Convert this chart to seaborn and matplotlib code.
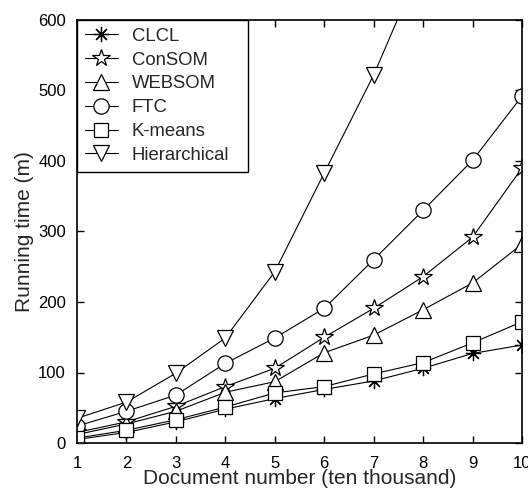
import numpy as np
import pandas as pd
import matplotlib
matplotlib.use("Agg")
import matplotlib.pyplot as plt
import seaborn as sns

# ---- data ----
doc_number = [1, 2, 3, 4, 5, 6, 7, 8, 9, 10]
clcl = [5, 15, 30, 48, 63, 76, 88, 106, 127, 139]
consom = [15, 30, 52, 80, 106, 150, 191, 236, 292, 390]
websom = [12, 27, 45, 72, 87, 128, 153, 189, 227, 282]
ftc = [24, 45, 68, 113, 149, 191, 260, 330, 401, 492]
kmeans = [7, 18, 33, 51, 71, 80, 98, 114, 142, 172]
hier_x = [1, 2, 3, 4, 5, 6, 7, 8]
hierarchical = [35, 58, 99, 149, 243, 383, 522, 685]

series_names = ["CLCL", "ConSOM", "WEBSOM", "FTC", "K-means", "Hierarchical"]
xticks = [1, 2, 3, 4, 5, 6, 7, 8, 9, 10]
yticks = [0, 100, 200, 300, 400, 500, 600]

# ---- styling ----
sns.set_theme(style="white")
plt.rcParams["font.family"] = ["Liberation Sans", "DejaVu Sans"]

fig = plt.figure(figsize=(5.28, 4.97), dpi=100)
ax = fig.add_axes([77 / 528, 1 - 443 / 497, (522 - 77) / 528, (443 - 20) / 497])

asterisk = (8, 2, 0)
marker_map = {
    "CLCL": (asterisk, 11),
    "ConSOM": ("*", 13),
    "WEBSOM": ("^", 12),
    "FTC": ("o", 11),
    "K-means": ("s", 10),
    "Hierarchical": ("v", 12),
}

data = {
    "CLCL": (doc_number, clcl),
    "ConSOM": (doc_number, consom),
    "WEBSOM": (doc_number, websom),
    "FTC": (doc_number, ftc),
    "K-means": (doc_number, kmeans),
    "Hierarchical": (hier_x, hierarchical),
}

for name in series_names:
    xs, ys = data[name]
    df = pd.DataFrame({"x": xs, "y": ys})
    m, ms = marker_map[name]
    sns.lineplot(data=df, x="x", y="y", ax=ax, color="black", linewidth=0.8,
                 marker=m, markersize=ms, markerfacecolor="white",
                 markeredgecolor="black", markeredgewidth=0.9, label=name,
                 clip_on=True)

ax.set_xlim(1, 10)
ax.set_ylim(0, 600)
ax.set_xticks(xticks)
ax.set_yticks(yticks)
ax.tick_params(direction="in", length=5, width=1, colors="black",
               top=True, right=True, bottom=True, left=True, labelsize=12)
ax.tick_params(axis="x", pad=9)
ax.tick_params(axis="y", pad=8)
for s in ax.spines.values():
    s.set_visible(True)
    s.set_color("black")
    s.set_linewidth(1.2)

ax.set_xlabel("Document number (ten thousand)", fontsize=15, labelpad=-1)
ax.set_ylabel("Running time (m)", fontsize=15, labelpad=3)

leg = ax.legend(loc="upper left", bbox_to_anchor=(0, 1, 171 / 445, 0),
                mode="expand", borderaxespad=0, fontsize=13.3,
                frameon=True, fancybox=False, edgecolor="black",
                framealpha=1, handlelength=1.8, handletextpad=0.75,
                labelspacing=0.37, borderpad=0.42)
leg.get_frame().set_linewidth(1.0)

fig.savefig("out.png", dpi=100)
